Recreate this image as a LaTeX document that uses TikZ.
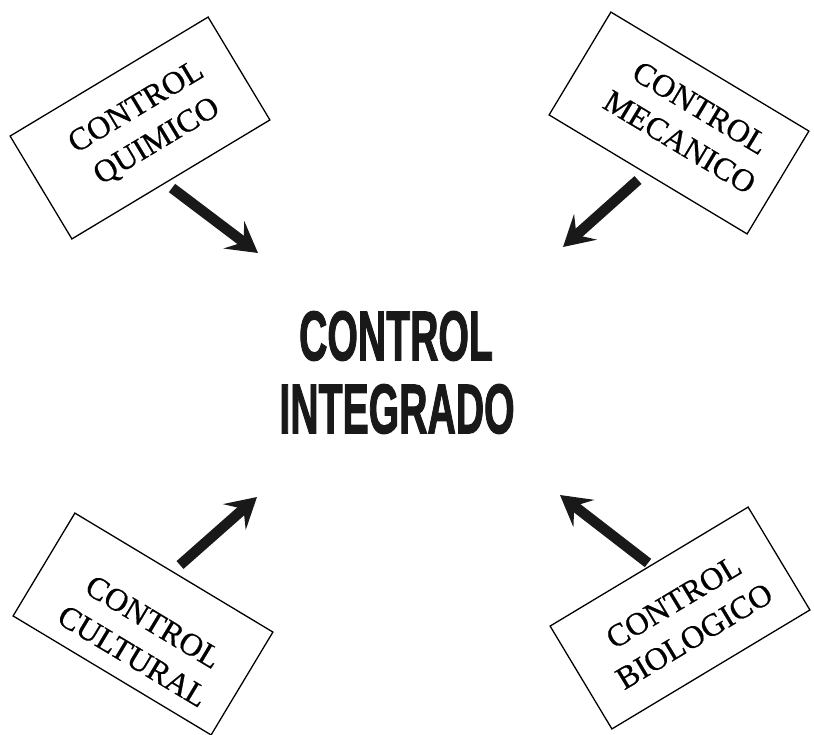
\documentclass[tikz,border=0pt]{standalone}
\usepackage{fontspec}
\usetikzlibrary{arrows.meta}
\newfontfamily\boxfont[FakeBold=0.6]{Liberation Serif}
\newfontfamily\ctrfont[FakeBold=2]{Liberation Sans Bold}
\tikzset{
  ctrlbox/.style={draw=black, line width=1.3pt, rectangle, minimum width=231pt, minimum height=120pt, inner sep=0pt},
  ctrltext/.style={align=center, inner sep=0pt, font=\boxfont\fontsize{32}{40}\selectfont, text=black},
  bigarrow/.style={line width=10.5pt, draw=black!90, -{Stealth[length=30pt,width=34pt,inset=12pt]}},
  centertext/.style={inner sep=0pt, font=\ctrfont\fontsize{70}{72}\selectfont, text=black!90}
}
\begin{document}
\begin{tikzpicture}[x=1pt,y=-1pt]
\useasboundingbox (0,0) rectangle (814,734);
% boxes
\node[ctrlbox, rotate=31] (qui) at (140,128) {};
\node[ctrlbox, rotate=-31] (mec) at (679,123) {};
\node[ctrlbox, rotate=-31] (cul) at (143,624) {};
\node[ctrlbox, rotate=31] (bio) at (680,618) {};
% box texts
\node[ctrltext, rotate=31] (quit) at (147,125) {CONTROL\\QUIMICO};
\node[ctrltext, rotate=-31] (mect) at (690,125) {CONTROL\\MECANICO};
\node[ctrltext, rotate=-31] (cult) at (143,639) {CONTROL\\CULTURAL};
\node[ctrltext, rotate=31] (biot) at (684,619) {CONTROL\\BIOLOGICO};
% center text
\node[centertext] (ci1) at (396,336) {\scalebox{0.56}[1]{CONTROL}};
\node[centertext] (ci2) at (397,409) {\scalebox{0.56}[1]{INTEGRADO}};
% arrows
\coordinate (a1s) at (172,188);
\coordinate (a1e) at (258,253);
\coordinate (a2s) at (638,180);
\coordinate (a2e) at (563,247);
\coordinate (a3s) at (180,565);
\coordinate (a3e) at (257,497);
\coordinate (a4s) at (648,563);
\coordinate (a4e) at (560,495);
\draw[bigarrow] (a1s) -- (a1e);
\draw[bigarrow] (a2s) -- (a2e);
\draw[bigarrow] (a3s) -- (a3e);
\draw[bigarrow] (a4s) -- (a4e);
\end{tikzpicture}
\end{document}
